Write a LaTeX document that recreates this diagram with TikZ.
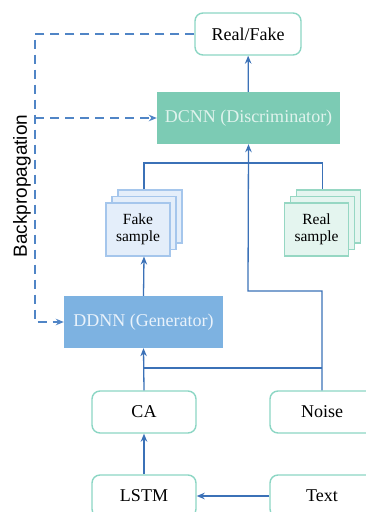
\documentclass[tikz,border=0pt]{standalone}
\usepackage{fontspec}
\setmainfont{Liberation Serif}
\newfontfamily\backfont{Liberation Sans}
\usetikzlibrary{arrows.meta}

\definecolor{linkblue}{RGB}{59,113,183}
\definecolor{dashblue}{RGB}{80,133,198}
\definecolor{boxline}{RGB}{140,214,196}
\definecolor{dcnnfill}{RGB}{124,203,180}
\definecolor{dcnntext}{RGB}{224,243,237}
\definecolor{ddnnfill}{RGB}{125,178,225}
\definecolor{ddnntext}{RGB}{233,242,251}
\definecolor{fakefill}{RGB}{228,238,250}
\definecolor{fakeline}{RGB}{165,198,236}
\definecolor{realfill}{RGB}{228,245,239}
\definecolor{realline}{RGB}{150,215,195}

\tikzset{
	box/.style={draw=boxline, line width=1.4pt, rounded corners=8pt, fill=white,
		minimum width=104pt, minimum height=42pt, inner sep=0pt,
		font=\fontsize{18}{20}\selectfont},
	net/.style={minimum height=52pt, inner sep=0pt, font=\fontsize{18}{20}\selectfont},
	sample/.style={line width=1.1pt, minimum width=64pt, minimum height=53pt,
		inner sep=0pt, align=center, font=\fontsize{15.5}{17.5}\selectfont},
	fakesample/.style={sample, draw=fakeline, fill=fakefill},
	realsample/.style={sample, draw=realline, fill=realfill},
	link/.style={linkblue, line width=1.3pt},
	arrow/.style={link, -{Stealth[length=8pt,width=6.5pt]}},
	backprop/.style={dashblue, line width=1.3pt, dash pattern=on 9pt off 6pt,
		-{Stealth[length=8pt,width=6.5pt]}},
}

\begin{document}
\begin{tikzpicture}[x=1pt,y=-1pt]
	\clip (0,0) rectangle (366,512);
	% ノードの配置
	\node[box, minimum width=106pt] (realfake) at (248,34) {Real/Fake};
	\node[net, fill=dcnnfill, text=dcnntext, minimum width=183pt] (dcnn) at (248.5,118) {DCNN (Discriminator)};
	\node[net, fill=ddnnfill, text=ddnntext, minimum width=159pt] (ddnn) at (143.5,322) {DDNN (Generator)};
	\node[box] (ca) at (144,412) {CA};
	\node[box] (noise) at (322,412) {Noise};
	\node[box] (lstm) at (144,496) {LSTM};
	\node[box] (text) at (322,496) {Text};
	% サンプルの重なり
	\node[fakesample] (fake3) at (150,216.5) {};
	\node[fakesample] (fake2) at (144,223) {};
	\node[fakesample] (fake1) at (138,229.5) {Fake\\sample};
	\node[realsample] (real3) at (328.5,216.5) {};
	\node[realsample] (real2) at (322.5,223) {};
	\node[realsample] (real1) at (316.5,229.5) {Real\\sample};
	\node[rotate=90, font=\backfont\fontsize{19}{21}\selectfont] (bp) at (22,186) {Backpropagation};
	% 点の定義
	\coordinate (join) at (248,163);
	\coordinate (bend) at (248,291);
	\coordinate (mix) at (144,368);
	\coordinate (bpbottom) at (35,322);
	% 線の描画
	\draw[arrow] (dcnn) -- (realfake);
	\draw[link] (fake2 |- fake3.north) |- (join) -| (real2 |- real3.north);
	\draw[arrow] (noise.north) |- (bend) -- (dcnn.south);
	\draw[link] (noise.north |- mix) -- (mix);
	\draw[arrow] (ca.north) -- (ddnn.south);
	\draw[arrow] (ddnn.north) -- (fake2 |- fake1.south);
	\draw[arrow] (lstm) -- (ca);
	\draw[arrow] (text) -- (lstm);
	% 逆伝播の破線
	\draw[backprop] (realfake.west) -| (bpbottom) -- (ddnn.west);
	\draw[backprop] (bpbottom |- dcnn.west) -- (dcnn.west);
\end{tikzpicture}
\end{document}
